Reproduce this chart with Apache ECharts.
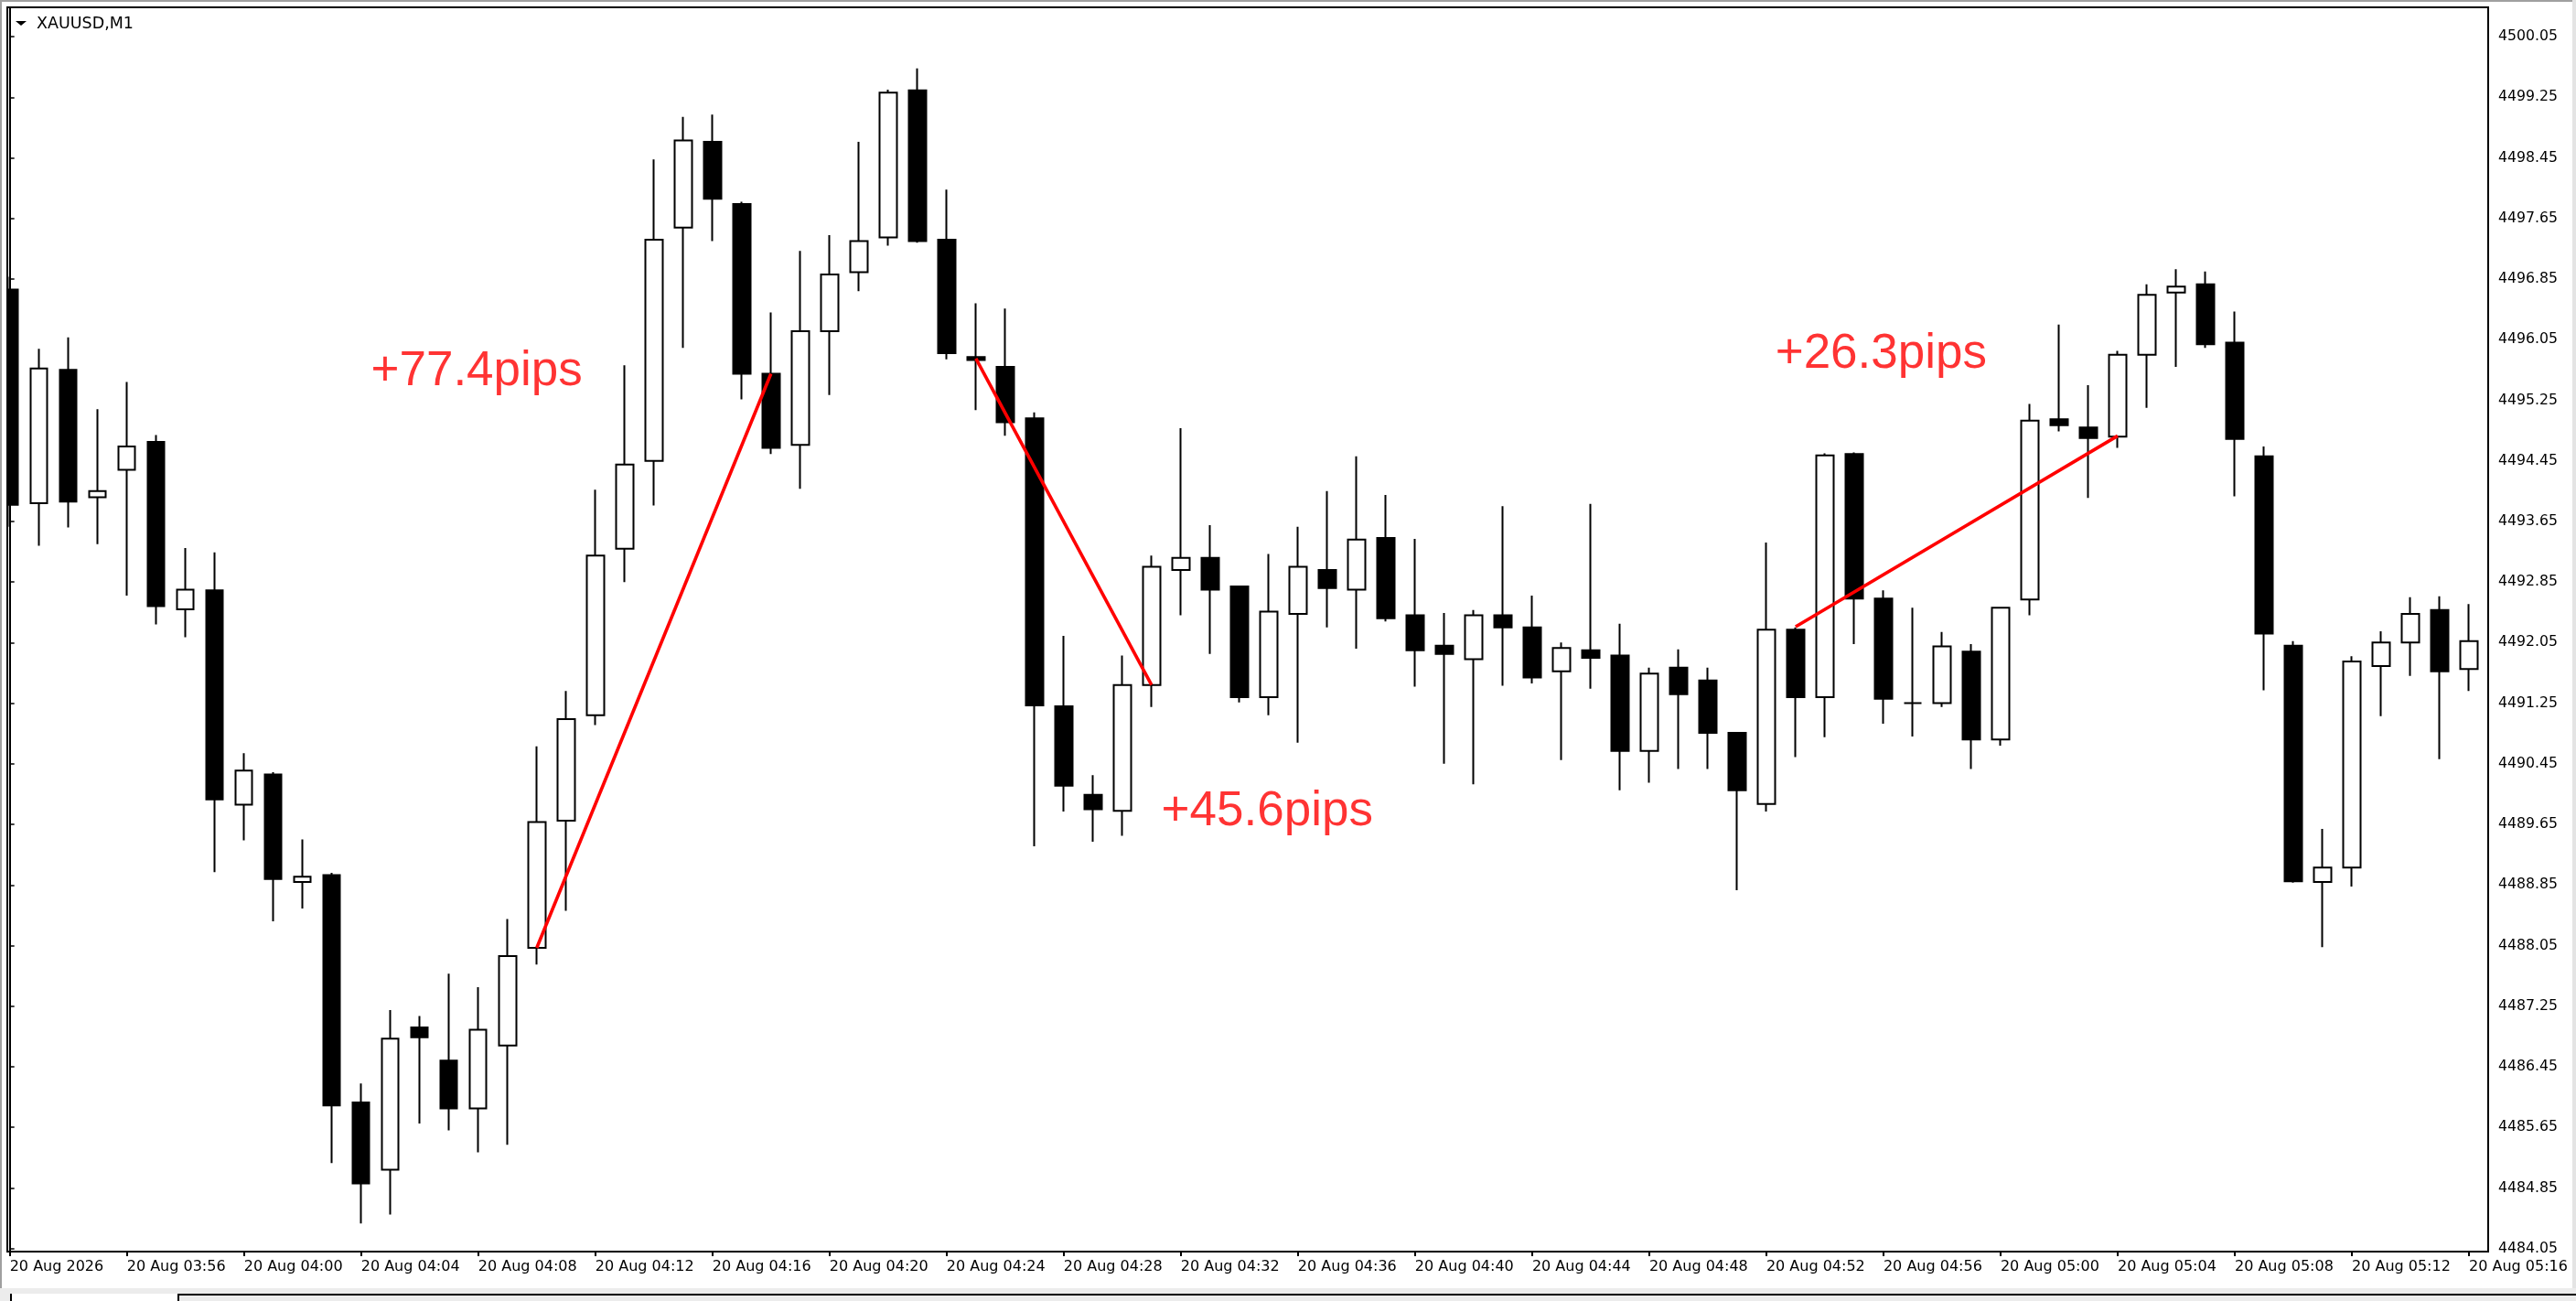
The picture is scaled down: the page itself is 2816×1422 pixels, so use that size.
<!DOCTYPE html>
<html>
<head>
<meta charset="utf-8">
<script src="https://cdn.jsdelivr.net/npm/echarts@6/dist/echarts.min.js"></script>
<style>
html,body{margin:0;padding:0;background:#fff;}
#chart{width:2816px;height:1422px;}
</style>
</head>
<body>
<div id="chart"></div>
<script>
// ---- data (XAUUSD, M1, 20 Aug) ----
const times = ['03:52','03:53','03:54','03:55','03:56','03:57','03:58','03:59',
'04:00','04:01','04:02','04:03','04:04','04:05','04:06','04:07','04:08','04:09','04:10','04:11',
'04:12','04:13','04:14','04:15','04:16','04:17','04:18','04:19','04:20','04:21','04:22','04:23',
'04:24','04:25','04:26','04:27','04:28','04:29','04:30','04:31','04:32','04:33','04:34','04:35',
'04:36','04:37','04:38','04:39','04:40','04:41','04:42','04:43','04:44','04:45','04:46','04:47',
'04:48','04:49','04:50','04:51','04:52','04:53','04:54','04:55','04:56','04:57','04:58','04:59',
'05:00','05:01','05:02','05:03','05:04','05:05','05:06','05:07','05:08','05:09','05:10','05:11',
'05:12','05:13','05:14','05:15','05:16'];

const opens = [4496.71,4493.89,4495.65,4493.97,4494.33,4494.70,4492.49,4492.74,4489.91,4490.31,
4488.89,4488.98,4485.98,4485.09,4486.97,4486.53,4485.90,4486.73,4488.02,4489.70,
4491.09,4493.29,4494.45,4497.53,4498.66,4497.84,4495.60,4494.66,4496.16,4496.94,
4497.40,4499.34,4497.37,4495.82,4495.69,4495.01,4491.21,4490.04,4489.83,4491.49,
4493.01,4493.17,4492.79,4491.33,4492.43,4493.01,4492.75,4493.43,4492.41,4492.01,
4491.83,4492.41,4492.25,4491.67,4491.95,4491.88,4490.62,4491.72,4491.55,4490.86,
4489.92,4492.22,4491.33,4494.54,4492.63,4491.25,4491.25,4491.93,4490.77,4492.62,
4495.00,4494.89,4494.77,4495.85,4496.67,4496.78,4496.01,4494.51,4492.01,4488.89,
4489.08,4491.74,4492.05,4492.48,4491.70];

const closes = [4493.87,4495.67,4493.91,4494.05,4494.64,4492.53,4492.75,4489.98,4490.36,4488.93,
4488.96,4485.94,4484.91,4486.82,4486.84,4485.90,4486.94,4487.91,4489.68,4491.04,
4493.20,4494.40,4497.37,4498.68,4497.91,4495.60,4494.62,4496.16,4496.91,4497.35,
4499.31,4497.35,4495.87,4495.78,4494.96,4491.22,4490.16,4489.85,4491.49,4493.05,
4493.17,4492.75,4491.33,4492.46,4493.05,4492.77,4493.41,4492.37,4491.95,4491.90,
4492.41,4492.25,4491.59,4491.98,4491.85,4490.62,4491.64,4491.37,4490.86,4490.10,
4492.22,4491.33,4494.52,4492.63,4491.31,4491.25,4492.00,4490.77,4492.51,4494.98,
4494.92,4494.75,4495.85,4496.64,4496.75,4495.99,4494.74,4492.17,4488.90,4489.08,
4491.80,4492.05,4492.43,4491.67,4492.07];

const lows = [4493.58,4493.33,4493.57,4493.35,4492.67,4492.29,4492.12,4489.02,4489.44,4488.37,
4488.54,4485.18,4484.38,4484.50,4485.70,4485.61,4485.32,4485.42,4487.80,4488.51,
4490.96,4492.85,4493.86,4495.94,4497.35,4495.26,4494.54,4494.08,4495.32,4496.69,
4497.29,4497.33,4495.79,4495.12,4494.78,4489.36,4489.82,4489.42,4489.50,4491.20,
4492.41,4491.90,4491.26,4491.09,4490.73,4492.25,4491.97,4492.33,4491.47,4490.45,
4490.18,4491.48,4491.51,4490.50,4491.44,4490.10,4490.20,4490.38,4490.38,4488.78,
4489.82,4490.54,4490.80,4492.03,4490.98,4490.81,4491.20,4490.38,4490.69,4492.41,
4494.84,4493.96,4494.62,4495.15,4495.69,4495.94,4493.98,4491.42,4488.88,4488.03,
4488.83,4491.08,4491.61,4490.51,4491.41];

const highs = [4496.88,4495.93,4496.08,4495.13,4495.49,4494.79,4493.30,4493.24,4490.59,4490.34,
4489.45,4489.01,4486.23,4487.20,4487.12,4487.68,4487.50,4488.40,4490.68,4491.41,
4494.07,4495.71,4498.43,4498.99,4499.02,4497.87,4496.41,4497.22,4497.43,4498.66,
4499.35,4499.63,4498.03,4496.53,4496.46,4495.09,4492.14,4490.30,4491.88,4493.20,
4494.88,4493.60,4492.80,4493.22,4493.58,4494.05,4494.51,4494.00,4493.42,4492.44,
4492.48,4493.85,4492.67,4492.05,4493.88,4492.30,4491.72,4491.96,4491.72,4490.87,
4493.37,4492.25,4494.55,4494.56,4492.74,4492.51,4492.19,4492.03,4492.52,4495.20,
4496.25,4495.45,4495.90,4496.78,4496.98,4496.95,4496.42,4494.64,4492.07,4489.59,
4491.87,4492.20,4492.65,4492.66,4492.56];

// tick labels
const xTickIndex = [0,4,8,12,16,20,24,28,32,36,40,44,48,52,56,60,64,68,72,76,80,84];
const xTickLabels = ['20 Aug 2026','20 Aug 03:56','20 Aug 04:00','20 Aug 04:04','20 Aug 04:08',
'20 Aug 04:12','20 Aug 04:16','20 Aug 04:20','20 Aug 04:24','20 Aug 04:28','20 Aug 04:32',
'20 Aug 04:36','20 Aug 04:40','20 Aug 04:44','20 Aug 04:48','20 Aug 04:52','20 Aug 04:56',
'20 Aug 05:00','20 Aug 05:04','20 Aug 05:08','20 Aug 05:12','20 Aug 05:16'];
const priceTicks = [4484.05,4484.85,4485.65,4486.45,4487.25,4488.05,4488.85,4489.65,4490.45,
4491.25,4492.05,4492.85,4493.65,4494.45,4495.25,4496.05,4496.85,4497.65,4498.45,4499.25,4500.05];

// trend lines drawn on the chart: [startIndex, startPrice, endIndex, endPrice]
const trendStartIdx = [18, 33, 61];
const trendStartPrice = [4488.02, 4495.80, 4492.26];
const trendEndIdx = [26, 39, 72];
const trendEndPrice = [4495.60, 4491.49, 4494.78];

// text annotations
const noteTexts = ['+77.4pips', '+45.6pips', '+26.3pips'];
const noteIdx = [12.32, 39.32, 60.29];
const notePrice = [4495.62, 4489.81, 4495.85];

// ---- build ----
const candleData = opens.map((o, i) => [i, o, closes[i], lows[i], highs[i]]);

const trendSeries = trendStartIdx.map((s, k) => ({
  type: 'line',
  data: [[s, trendStartPrice[k]], [trendEndIdx[k], trendEndPrice[k]]],
  showSymbol: false,
  symbol: 'none',
  silent: true,
  z: 5,
  lineStyle: { color: '#ff0000', width: 3.6 }
}));

const noteData = noteTexts.map((t, k) => ({ name: t, value: [noteIdx[k], notePrice[k]] }));

const chart = echarts.init(document.getElementById('chart'), null, { renderer: 'canvas' });

const option = {
  animation: false,
  backgroundColor: '#ffffff',
  grid: {
    left: 8, right: 96, top: 8, bottom: 54,
    show: true, borderColor: '#000000', borderWidth: 2, backgroundColor: '#ffffff'
  },
  xAxis: {
    type: 'value',
    min: -0.084,
    max: 84.656,
    splitLine: { show: false },
    axisLine: { show: true, onZero: false, lineStyle: { color: '#000', width: 2 } },
    axisTick: { show: true, length: 5, lineStyle: { color: '#000', width: 2 }, customValues: xTickIndex },
    axisLabel: {
      customValues: xTickIndex,
      formatter: v => xTickLabels[xTickIndex.indexOf(Math.round(v))],
      align: 'left',
      margin: 9,
      color: '#000',
      fontFamily: 'DejaVu Sans',
      fontSize: 16,
      showMinLabel: true,
      showMaxLabel: true,
      hideOverlap: false
    }
  },
  yAxis: {
    type: 'value',
    position: 'right',
    min: 4484.010,
    max: 4500.437,
    scale: true,
    splitLine: { show: false },
    axisLine: { show: true, lineStyle: { color: '#000', width: 2 } },
    axisTick: { show: true, length: 5, lineStyle: { color: '#000', width: 1.5 }, customValues: priceTicks },
    axisLabel: {
      customValues: priceTicks,
      formatter: v => Number(v).toFixed(2),
      margin: 11,
      color: '#000',
      fontFamily: 'DejaVu Sans',
      fontSize: 15.7,
      showMinLabel: true,
      showMaxLabel: true
    }
  },
  series: [
    {
      type: 'candlestick',
      data: candleData,
      barWidth: 19,
      clip: true,
      silent: true,
      itemStyle: {
        color: '#ffffff',
        color0: '#000000',
        borderColor: '#000000',
        borderColor0: '#000000',
        borderColorDoji: '#000000',
        borderWidth: 2
      }
    },
    ...trendSeries,
    {
      type: 'scatter',
      data: noteData,
      symbolSize: 1,
      silent: true,
      z: 6,
      itemStyle: { color: 'rgba(0,0,0,0)' },
      label: {
        show: true,
        position: 'right',
        distance: 0,
        formatter: p => p.name,
        color: '#ff0000',
        fontFamily: 'Liberation Sans',
        fontSize: 53
      }
    }
  ],
  graphic: [
    { type: 'rect', z: 100, shape: { x: 0, y: 0, width: 8, height: 1370 }, style: { fill: '#ffffff' } },
    { type: 'rect', z: 101, shape: { x: 7, y: 7, width: 2, height: 1362 }, style: { fill: '#000000' } },
    { type: 'rect', z: 101, shape: { x: 0, y: 0, width: 2816, height: 2 }, style: { fill: '#a0a0a0' } },
    { type: 'rect', z: 101, shape: { x: 0, y: 0, width: 2, height: 1408 }, style: { fill: '#a0a0a0' } },
    { type: 'rect', z: 101, shape: { x: 2812, y: 0, width: 4, height: 1408 }, style: { fill: '#e4e4e4' } },
    { type: 'rect', z: 101, shape: { x: 0, y: 1408, width: 2816, height: 14 }, style: { fill: '#ececec' } },
    { type: 'rect', z: 102, shape: { x: 13, y: 1414, width: 181, height: 8 }, style: { fill: '#ffffff' } },
    { type: 'rect', z: 102, shape: { x: 11, y: 1414, width: 2, height: 8 }, style: { fill: '#000000' } },
    { type: 'rect', z: 102, shape: { x: 194, y: 1414, width: 2622, height: 2 }, style: { fill: '#000000' } },
    { type: 'rect', z: 102, shape: { x: 194, y: 1414, width: 2, height: 8 }, style: { fill: '#000000' } },
    { type: 'polygon', z: 102, shape: { points: [[17, 23], [29, 23], [23, 28]] }, style: { fill: '#000000' } },
    { type: 'text', z: 102, style: { text: 'XAUUSD,M1', x: 40, y: 26, verticalAlign: 'middle', font: '17.5px "DejaVu Sans"', fill: '#000000' } }
  ]
};

chart.setOption(option);
</script>
</body>
</html>
